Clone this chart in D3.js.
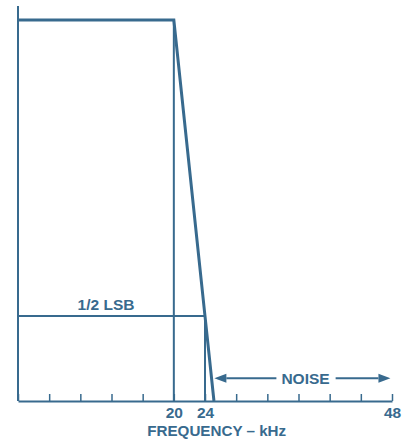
<!DOCTYPE html>
<html>
<head>
<meta charset="utf-8">
<script src="https://cdn.jsdelivr.net/npm/d3@7"></script>
<style>
  body { margin: 0; background: #fff; }
  text { font-family: "Liberation Sans", Arial, sans-serif; font-weight: bold; fill: #386a8e; }
</style>
</head>
<body>
<div id="chart"></div>
<script>
// filter response (normalised amplitude vs kHz)
const freqs = [0, 20, 24, 25.15];
const levels = [1, 1, 0.223, 0];
const lsbLevel = 0.223;
const tickValues = [0, 4, 8, 12, 16, 20, 24, 28, 32, 36, 40, 44, 48];
const tickLabels = ["20", "24", "48"];
const noiseRange = [25.2, 47.8];
const noiseLevel = 0.06;
const yMax = 1.037;

const color = "#386a8e";
const width = 403, height = 440;

const svg = d3.select("#chart")
  .append("svg")
  .attr("width", width)
  .attr("height", height);

const x = d3.scaleLinear().domain([0, 48]).range([18, 392]);
const y = d3.scaleLinear().domain([0, 1]).range([401, 20]);

// x axis with inward ticks
const xAxis = svg.append("g")
  .attr("transform", `translate(0,${y(0)})`)
  .call(d3.axisBottom(x)
    .tickValues(tickValues)
    .tickSize(-7)
    .tickSizeOuter(0)
    .tickPadding(6)
    .tickFormat(d => tickLabels.includes(String(d)) ? d : ""));
xAxis.select(".domain").attr("stroke", color).attr("stroke-width", 2);
xAxis.selectAll(".tick line").attr("stroke", color).attr("stroke-width", 1.5);
xAxis.selectAll(".tick text")
  .attr("font-size", "15.5px")
  .attr("font-family", null)
  .attr("fill", color);

// y axis line (no ticks)
svg.append("line")
  .attr("x1", x(0)).attr("x2", x(0))
  .attr("y1", y(yMax)).attr("y2", y(0))
  .attr("stroke", color).attr("stroke-width", 2);

// 20 kHz vertical
svg.append("line")
  .attr("x1", x(20)).attr("x2", x(20))
  .attr("y1", y(1)).attr("y2", y(0))
  .attr("stroke", color).attr("stroke-width", 2);

// 24 kHz vertical, from 1/2 LSB down
svg.append("line")
  .attr("x1", x(24)).attr("x2", x(24))
  .attr("y1", y(lsbLevel)).attr("y2", y(0))
  .attr("stroke", color).attr("stroke-width", 2);

// 1/2 LSB horizontal
svg.append("line")
  .attr("x1", x(0)).attr("x2", x(24))
  .attr("y1", y(lsbLevel)).attr("y2", y(lsbLevel))
  .attr("stroke", color).attr("stroke-width", 2);

svg.append("text")
  .attr("x", x(11.3))
  .attr("y", y(lsbLevel) - 6.5)
  .attr("text-anchor", "middle")
  .attr("font-size", "15.5px")
  .text("1/2 LSB");

// response curve
const line = d3.line()
  .x(d => x(d[0]))
  .y(d => y(d[1]));
svg.append("path")
  .datum(d3.zip(freqs, levels))
  .attr("d", line)
  .attr("fill", "none")
  .attr("stroke", color)
  .attr("stroke-width", 3)
  .attr("stroke-linejoin", "miter");

// NOISE arrow
const ny = y(noiseLevel);
const noiseText = svg.append("text")
  .attr("x", x(36.9))
  .attr("y", ny + 5.5)
  .attr("text-anchor", "middle")
  .attr("font-size", "15.5px")
  .text("NOISE");
const bb = noiseText.node().getBBox();
const head = 12, halfW = 4.5;

svg.append("line")
  .attr("x1", x(noiseRange[0]) + head).attr("x2", bb.x - 5)
  .attr("y1", ny).attr("y2", ny)
  .attr("stroke", color).attr("stroke-width", 2);
svg.append("line")
  .attr("x1", bb.x + bb.width + 6).attr("x2", x(noiseRange[1]) - head)
  .attr("y1", ny).attr("y2", ny)
  .attr("stroke", color).attr("stroke-width", 2);

const lx = x(noiseRange[0]), rx = x(noiseRange[1]);
svg.append("path")
  .attr("d", `M${lx},${ny}L${lx + head},${ny - halfW}L${lx + head},${ny + halfW}Z`)
  .attr("fill", color);
svg.append("path")
  .attr("d", `M${rx},${ny}L${rx - head},${ny - halfW}L${rx - head},${ny + halfW}Z`)
  .attr("fill", color);

// x axis title
svg.append("text")
  .attr("x", x(25.5))
  .attr("y", 436)
  .attr("text-anchor", "middle")
  .attr("font-size", "15.2px")
  .text("FREQUENCY – kHz");
</script>
</body>
</html>
